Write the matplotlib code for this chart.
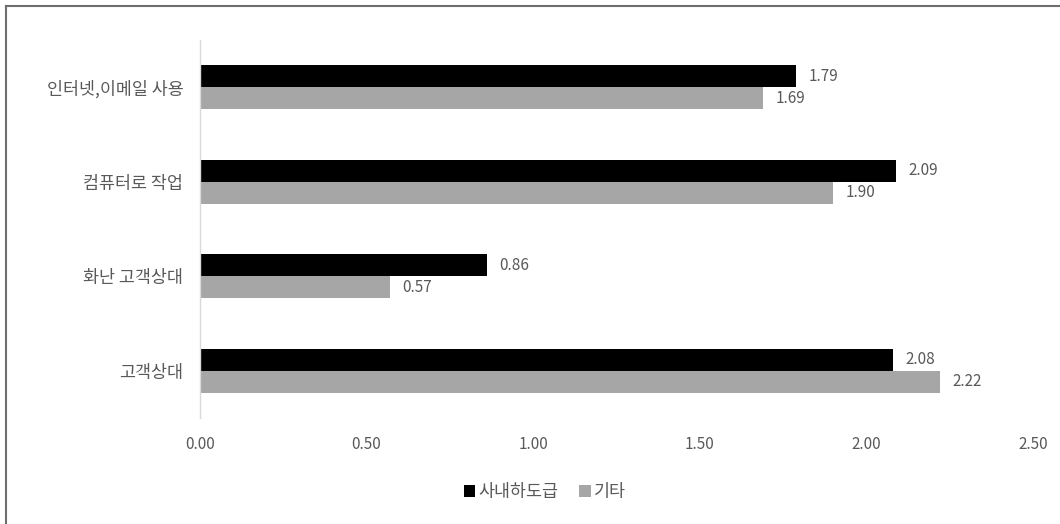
import matplotlib
matplotlib.use("Agg")
import matplotlib.pyplot as plt
from matplotlib.patches import Patch
from matplotlib.lines import Line2D
import numpy as np

plt.rcParams['font.family'] = ['Noto Sans CJK KR', 'DejaVu Sans']

categories = ['고객상대', '화난 고객상대', '컴퓨터로 작업', '인터넷,이메일 사용']
series_names = ['사내하도급', '기타']
subcontract = [2.08, 0.86, 2.09, 1.79]
others = [2.22, 0.57, 1.90, 1.69]
xticks = [0.0, 0.5, 1.0, 1.5, 2.0, 2.5]
xtick_labels = ['0.00', '0.50', '1.00', '1.50', '2.00', '2.50']

text_color = '#595959'
c_black = '#000000'
c_gray = '#A6A6A6'

fig = plt.figure(figsize=(10.6, 5.24), dpi=100)
ax = fig.add_axes([200/1060, 1-418/524, 833/1060, 378/524])

y = np.arange(len(categories))
h = 0.232
ax.barh(y + h/2, subcontract, height=h, color=c_black, label=series_names[0])
ax.barh(y - h/2, others, height=h, color=c_gray, label=series_names[1])

for yi, v in zip(y, subcontract):
    ax.annotate(f'{v:.2f}', (v, yi + h/2), xytext=(9, 0), textcoords='offset points',
                va='center', ha='left', fontsize=11, color=text_color)
for yi, v in zip(y, others):
    ax.annotate(f'{v:.2f}', (v, yi - h/2), xytext=(9, 0), textcoords='offset points',
                va='center', ha='left', fontsize=11, color=text_color)

ax.set_xlim(0, 2.5)
ax.set_ylim(-0.5, len(categories) - 0.5)
ax.set_xticks(xticks)
ax.set_xticklabels(xtick_labels)
ax.set_yticks(y)
ax.set_yticklabels(categories)
ax.tick_params(axis='x', length=0, pad=13, labelsize=11, labelcolor=text_color)
ax.tick_params(axis='y', length=0, pad=12, labelsize=12.5, labelcolor=text_color)
for s in ['top', 'right', 'bottom']:
    ax.spines[s].set_visible(False)
ax.spines['left'].set_color('#D9D9D9')
ax.spines['left'].set_linewidth(1.0)

handles = [Patch(facecolor=c_black), Patch(facecolor=c_gray)]
leg = fig.legend(handles, series_names, loc='center', bbox_to_anchor=(545/1060, 1-492/524),
                 ncol=2, frameon=False, handlelength=0.65, handleheight=0.65,
                 handletextpad=0.2, columnspacing=1.2, fontsize=12.5)
for t in leg.get_texts():
    t.set_color(text_color)

# figure border (left and top)
fig.add_artist(Line2D([5.5/1060, 5.5/1060], [0, 1-6/524], transform=fig.transFigure,
                      color='#6E6E6E', linewidth=1.5))
fig.add_artist(Line2D([5.5/1060, 1], [1-6/524, 1-6/524], transform=fig.transFigure,
                      color='#6E6E6E', linewidth=1.5))

fig.savefig('out.png', dpi=100, facecolor='white')
